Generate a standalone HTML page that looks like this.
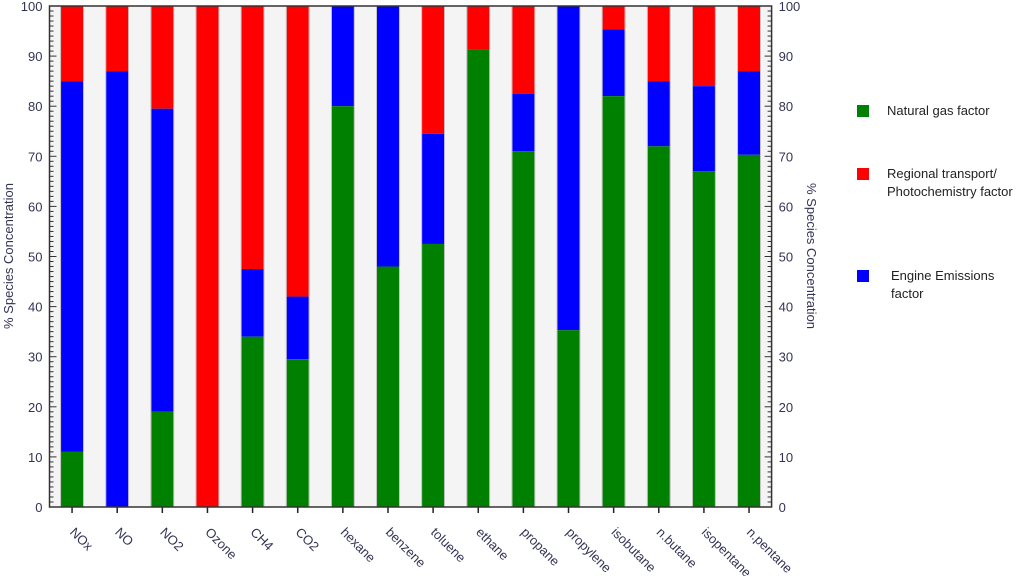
<!DOCTYPE html>
<html><head><meta charset="utf-8">
<style>
body{margin:0;background:#fff;width:1021px;height:576px;overflow:hidden}
svg{display:block;font-family:"Liberation Sans",Arial,sans-serif}
.tl{fill:#333355;font-size:13px}
.lg{fill:#222;font-size:13px}
</style></head><body>
<svg id="chart" width="1021" height="576" viewBox="0 0 1021 576"></svg>
<script>
const categories=["NOx","NO","NO2","Ozone","CH4","CO2","hexane","benzene","toluene","ethane","propane","propylene","isobutane","n.butane","isopentane","n.pentane"];
const naturalGas=[11,0,19,0,34,29.5,80,48,52.5,91.3,71,35.3,82,72,67,70.3];
const engineTop=[85,87,79.5,0,47.5,42,100,100,74.5,91.3,82.5,100,95.3,85,84,87];
const yTicks=[0,10,20,30,40,50,60,70,80,90,100];
const NS="http://www.w3.org/2000/svg";
const svg=document.getElementById('chart');
const L=49.5,R=771.6,T=6,B=507;
const bw=(R-L)/categories.length;
function y(v){return B-(v/100)*(B-T);}
function xc(i){return L+bw*(i+0.5);}
function mk(tag,attrs,parent){const e=document.createElementNS(NS,tag);for(const k in attrs)e.setAttribute(k,attrs[k]);(parent||svg).appendChild(e);return e;}
const bg=mk('rect',{x:L,y:T,width:R-L,height:B-T,fill:'#f4f4f4'});


const barW=22;
categories.forEach((c,i)=>{
  const g=mk('g',{});
  
  
  const x0=xc(i)-barW/2;
  const gTop=naturalGas[i];
  const bTop=Math.max(engineTop[i],gTop);
  const s1=mk('rect',{x:x0,y:y(100),width:barW,height:y(bTop)-y(100),fill:'#ff0000'},g);
  
  
  const s2=mk('rect',{x:x0,y:y(bTop),width:barW,height:y(gTop)-y(bTop),fill:'#0000ff'},g);
  
  
  const s3=mk('rect',{x:x0,y:y(gTop),width:barW,height:y(0)-y(gTop),fill:'#008000'},g);
  
  
  mk('rect',{x:x0-0.5,y:y(100),width:barW+1,height:y(0)-y(100),fill:'none',stroke:'#bbb','stroke-width':0.8},g);
  const t=mk('line',{x1:xc(i),x2:xc(i),y1:B,y2:B+6,stroke:'#222','stroke-width':1.5});
  
  
  const lab=mk('text',{x:0,y:0,class:'tl','font-size':'11.5',transform:`translate(${xc(i)-3},${B+26}) rotate(45)`});
  lab.textContent=c;
  
  
});
const fr=mk('rect',{x:L,y:T,width:R-L,height:B-T,fill:'none',stroke:'#333','stroke-width':1.5});


for(let v=0;v<=100;v+=1){
  const major=v%10===0;const len=major?7:4;
  const a=mk('line',{x1:L,x2:L+len,y1:y(v),y2:y(v),stroke:'#333','stroke-width':1});
  
  
  const b=mk('line',{x1:R-len,x2:R,y1:y(v),y2:y(v),stroke:'#333','stroke-width':1});
  
  
}
yTicks.forEach(v=>{
  const a=mk('text',{x:L-7,y:y(v)+5,class:'tl','text-anchor':'end'});a.textContent=v;
  
  
  const b=mk('text',{x:R+7,y:y(v)+5,class:'tl'});b.textContent=v;
  
  
});
const lt=mk('text',{x:0,y:0,class:'tl','font-size':'12','text-anchor':'middle',transform:'translate(13,256) rotate(-90)'});
lt.textContent='% Species Concentration';


const rt=mk('text',{x:0,y:0,class:'tl','font-size':'12','text-anchor':'middle',transform:'translate(807,256) rotate(90)'});
rt.textContent='% Species Concentration';


const legend=[["#008000",105,["Natural gas factor"],887],["#ff0000",168,["Regional transport/","Photochemistry factor"],887],["#0000ff",270,["Engine Emissions","factor"],891]];
legend.forEach(([col,yy,lines,tx])=>{
  const g=mk('g',{});
  
  
  mk('rect',{x:857,y:yy,width:12,height:12,fill:col},g);
  lines.forEach((ln,k)=>{const t=mk('text',{x:tx,y:yy+10+k*18,class:'lg'},g);t.textContent=ln;});
});
</script>
</body></html>
